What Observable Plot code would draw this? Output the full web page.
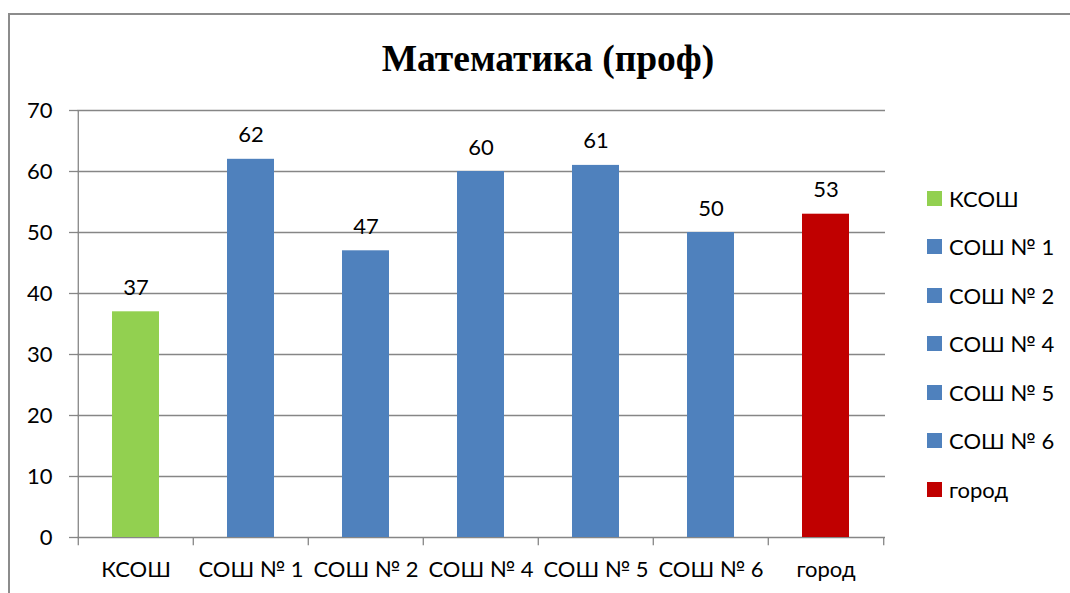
<!DOCTYPE html>
<html>
<head>
<meta charset="utf-8">
<script src="https://cdn.jsdelivr.net/npm/d3@7"></script>
<script src="https://cdn.jsdelivr.net/npm/@observablehq/plot@0.6"></script>
<style>
  html, body { margin: 0; padding: 0; background: #fff; overflow: hidden; }
  #wrap { position: relative; width: 1070px; height: 593px; overflow: hidden; font-family: Lato, "Open Sans", sans-serif; }
  #frame { position: absolute; left: 8px; top: 13px; width: 1100px; height: 700px; border: 2px solid #8c8c8c; box-sizing: border-box; }
  #title { position: absolute; left: 0; width: 1096px; top: 36px; text-align: center; font-family: "Liberation Serif", "Times New Roman", serif; font-weight: bold; font-size: 37.5px; line-height: 46px; color: #000; }
  #chart { position: absolute; left: 0; top: 0; }
  #legend { position: absolute; left: 927px; top: 174px; }
  .li { display: flex; align-items: center; height: 48.5px; font-size: 22px; color: #000; }
  .sw { width: 15px; height: 15px; margin-right: 7px; }
</style>
</head>
<body>
<div id="wrap">
  <div id="frame"></div>
  <div id="title">Математика (проф)</div>
  <div id="chart"></div>
  <div id="legend"></div>
</div>
<script>
const categories = ["КСОШ", "СОШ № 1", "СОШ № 2", "СОШ № 4", "СОШ № 5", "СОШ № 6", "город"];
const values = [37, 62, 47, 60, 61, 50, 53];
const groups = ["КСОШ", "СОШ", "СОШ", "СОШ", "СОШ", "СОШ", "город"];
const yTicks = [0, 10, 20, 30, 40, 50, 60, 70];

const groupDomain = ["КСОШ", "СОШ", "город"];
const groupColors = ["#92D050", "#4F81BD", "#C00000"];

const data = categories.map((c, i) => ({name: c, value: values[i], group: groups[i]}));

const W = 1070, H = 593, mL = 77, mR = 185, mT = 110, mB = 56;
const step = (W - mL - mR) / categories.length;
const gray = "#868686";

const chart = Plot.plot({
  width: W, height: H,
  marginLeft: mL, marginRight: mR, marginTop: mT, marginBottom: mB,
  style: {fontFamily: "Lato, 'Open Sans', sans-serif", fontSize: "22px", color: "#000", background: "transparent", overflow: "visible"},
  x: {domain: categories, paddingInner: 0.59, paddingOuter: 0.295, label: null},
  y: {domain: [0, 70], label: null},
  color: {domain: groupDomain, range: groupColors},
  marks: [
    Plot.ruleY(yTicks, {stroke: gray, strokeWidth: 1.3}),
    Plot.barY(data, {x: "name", y: "value", fill: "group"}),
    Plot.text(data, {x: "name", y: "value", text: d => String(d.value), lineAnchor: "bottom", dy: -17, fontSize: 22, fill: "#000"}),
    Plot.ruleX(categories, {x: d => d, dx: -step / 2, y1: -1.35, y2: 0, stroke: gray, strokeWidth: 1.3}),
    Plot.ruleX([categories[categories.length - 1]], {x: d => d, dx: step / 2, y1: -1.35, y2: 0, stroke: gray, strokeWidth: 1.3}),
    Plot.ruleX([categories[0]], {x: d => d, dx: -step / 2, y1: 0, y2: 70, stroke: gray, strokeWidth: 1.3}),
    Plot.axisY({ticks: yTicks, tickSize: 8, tickPadding: 17, stroke: gray, strokeWidth: 1.3, fontSize: 22, tickFormat: d => String(d), label: null}),
    Plot.axisX({tickSize: 0, tickPadding: 24, fontSize: 22, label: null})
  ]
});
document.getElementById("chart").appendChild(chart);

const legend = document.getElementById("legend");
categories.forEach((c, i) => {
  const row = document.createElement("div");
  row.className = "li";
  const sw = document.createElement("div");
  sw.className = "sw";
  sw.style.background = groupColors[groupDomain.indexOf(groups[i])];
  const t = document.createElement("span");
  t.textContent = c;
  row.appendChild(sw);
  row.appendChild(t);
  legend.appendChild(row);
});
</script>
</body>
</html>
